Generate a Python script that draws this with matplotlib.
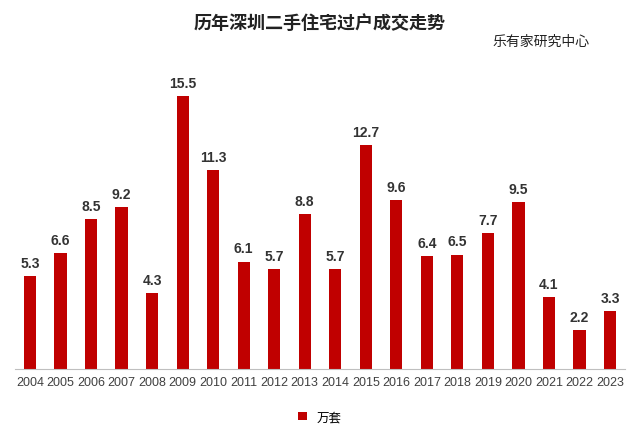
import matplotlib
matplotlib.use("Agg")
import matplotlib.pyplot as plt
from matplotlib import font_manager

years = [str(y) for y in range(2004, 2024)]
values = [5.3, 6.6, 8.5, 9.2, 4.3, 15.5, 11.3, 6.1, 5.7, 8.8, 5.7, 12.7, 9.6, 6.4, 6.5, 7.7, 9.5, 4.1, 2.2, 3.3]

names = {f.name for f in font_manager.fontManager.ttflist}
cjk = [n for n in ["Noto Sans CJK SC", "Noto Sans CJK JP", "Noto Sans CJK TC", "Noto Sans CJK KR"] if n in names]
plt.rcParams["font.family"] = ["Liberation Sans"] + cjk + ["DejaVu Sans"]
fig = plt.figure(figsize=(6.4, 4.39), dpi=100)
ax = fig.add_axes([0.023, 0.157, 0.954, 0.706])
x = range(len(years))
ax.bar(x, values, width=0.4, color="#C00000", label="万套")
for i, v in zip(x, values):
    ax.text(i, v + 0.35, f"{v}", ha="center", va="bottom", fontsize=10, fontweight="bold", color="#333333")
ax.set_xlim(-0.5, len(years) - 0.5)
ax.set_ylim(0, 17.6)
ax.set_xticks(list(x))
ax.set_xticklabels(years, fontsize=9, color="#404040")
ax.tick_params(axis="x", length=0, pad=5)
ax.set_yticks([])
for s in ["top", "right", "left"]:
    ax.spines[s].set_visible(False)
ax.spines["bottom"].set_color("#bfbfbf")
fig.text(0.5, 0.945, "历年深圳二手住宅过户成交走势", ha="center", va="center", fontsize=13, fontweight="bold", color="#222222")
fig.text(0.845, 0.905, "乐有家研究中心", ha="center", va="center", fontsize=10, color="#222222")
fig.legend(loc="center", bbox_to_anchor=(0.5, 0.047), frameon=False, fontsize=9, handlelength=0.7, handleheight=0.7)
fig.savefig("out.png", dpi=100)
